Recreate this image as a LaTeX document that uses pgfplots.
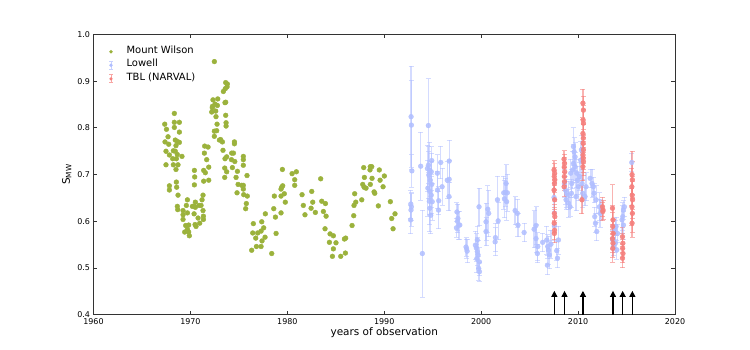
\documentclass[border=0pt]{standalone}
\usepackage{pgfplots}
\usepackage{pgfplotstable}
\pgfplotsset{compat=1.18}
\usepackage{fontspec}
\setmainfont{DejaVu Sans}
\usetikzlibrary{arrows.meta}
\definecolor{mw}{RGB}{155,178,60}
\definecolor{low}{RGB}{176,190,255}
\definecolor{tbl}{RGB}{245,128,125}

\pgfplotstableread{
x y
1967.35 0.808
1967.53 0.797
1967.69 0.781
1968.34 0.831
1968.34 0.812
1968.86 0.812
1968.34 0.801
1968.86 0.791
1968.44 0.774
1968.65 0.771
1968.86 0.769
1967.38 0.770
1967.76 0.765
1968.51 0.762
1967.48 0.750
1967.83 0.742
1968.24 0.751
1968.44 0.750
1968.65 0.743
1969.13 0.739
1968.17 0.734
1968.55 0.734
1968.24 0.721
1967.48 0.721
1968.72 0.721
1968.51 0.711
1968.55 0.684
1968.58 0.673
1967.83 0.676
1967.83 0.667
1968.72 0.656
1968.65 0.632
1968.69 0.625
1969.24 0.623
1969.24 0.614
1969.69 0.646
1969.24 0.604
1969.58 0.634
1969.69 0.618
1969.51 0.591
1969.82 0.592
1969.41 0.577
1969.82 0.577
1969.89 0.569
1969.69 0.583
1970.41 0.709
1970.44 0.695
1970.41 0.678
1970.20 0.632
1970.41 0.632
1970.51 0.630
1970.51 0.641
1970.38 0.616
1970.48 0.593
1970.58 0.589
1970.79 0.607
1970.89 0.634
1970.96 0.596
1971.10 0.634
1971.30 0.623
1971.34 0.611
1971.34 0.604
1971.20 0.646
1971.30 0.656
1971.37 0.686
1971.37 0.709
1971.54 0.704
1971.44 0.746
1971.68 0.732
1971.89 0.716
1971.89 0.688
1971.47 0.761
1971.82 0.759
1972.20 0.834
1972.27 0.846
1972.33 0.860
1972.78 0.848
1972.64 0.824
1972.75 0.808
1972.47 0.793
1972.71 0.794
1972.47 0.782
1972.99 0.774
1973.12 0.775
1973.30 0.770
1973.36 0.752
1973.57 0.734
1973.74 0.738
1973.54 0.714
1973.74 0.706
1973.54 0.694
1973.64 0.855
1973.64 0.827
1973.68 0.811
1973.68 0.804
1974.26 0.746
1974.44 0.746
1974.54 0.770
1974.54 0.766
1974.23 0.732
1974.58 0.728
1974.33 0.715
1974.85 0.707
1974.71 0.694
1974.92 0.679
1974.81 0.661
1975.46 0.739
1975.46 0.732
1975.46 0.720
1975.84 0.698
1975.46 0.677
1975.30 0.677
1975.46 0.669
1975.50 0.657
1975.87 0.654
1975.77 0.638
1975.70 0.627
1972.47 0.942
1973.64 0.897
1973.81 0.894
1973.78 0.888
1973.60 0.884
1973.40 0.878
1972.54 0.851
1972.82 0.862
1972.26 0.843
1972.61 0.836
1973.57 0.854
1976.49 0.595
1976.43 0.575
1976.32 0.538
1976.81 0.546
1976.74 0.564
1976.94 0.575
1977.36 0.599
1977.29 0.579
1977.29 0.546
1977.39 0.558
1977.56 0.586
1977.70 0.566
1977.73 0.616
1978.39 0.531
1978.66 0.654
1978.60 0.627
1978.77 0.609
1978.84 0.574
1979.35 0.618
1979.35 0.654
1979.35 0.669
1979.42 0.673
1979.52 0.676
1979.69 0.659
1979.79 0.641
1979.49 0.711
1980.49 0.702
1980.76 0.689
1980.76 0.677
1980.93 0.706
1981.52 0.657
1981.65 0.634
1981.82 0.614
1982.45 0.628
1982.52 0.664
1982.62 0.641
1982.89 0.619
1983.44 0.691
1983.55 0.643
1983.93 0.638
1983.72 0.621
1984.00 0.611
1983.89 0.584
1984.41 0.573
1984.75 0.569
1984.34 0.555
1985.02 0.554
1984.75 0.541
1984.65 0.525
1985.51 0.525
1985.99 0.532
1985.89 0.562
1986.02 0.564
1986.68 0.591
1986.85 0.612
1986.88 0.634
1987.06 0.641
1986.95 0.659
1987.68 0.646
1987.88 0.715
1987.95 0.694
1987.78 0.679
1987.92 0.673
1988.12 0.671
1988.56 0.717
1988.71 0.717
1988.53 0.710
1988.74 0.692
1988.56 0.679
1988.95 0.663
1989.02 0.660
1989.49 0.710
1989.57 0.688
1989.39 0.633
1990.01 0.697
1989.88 0.674
1990.63 0.642
1990.77 0.606
1991.11 0.616
1990.91 0.584
}\mwdata

\pgfplotstableread{
x y e
1992.77 0.824 0.108
1992.80 0.806 0.096
1992.85 0.708 0.035
1992.74 0.637 0.03
1992.80 0.631 0.03
1992.76 0.624 0.035
1992.72 0.603 0.03
1993.76 0.718 0.073
1993.93 0.531 0.093
1994.55 0.805 0.10
1994.45 0.713 0.05
1994.70 0.709 0.06
1994.85 0.706 0.04
1994.60 0.699 0.05
1994.75 0.688 0.04
1994.90 0.679 0.05
1994.50 0.671 0.06
1994.70 0.664 0.05
1994.85 0.656 0.04
1994.65 0.643 0.05
1994.95 0.642 0.04
1994.70 0.628 0.05
1994.80 0.613 0.04
1994.55 0.720 0.04
1994.90 0.730 0.03
1995.48 0.703 0.04
1995.50 0.667 0.04
1995.62 0.644 0.03
1995.60 0.624 0.04
1995.83 0.726 0.035
1995.97 0.674 0.04
1996.50 0.688 0.04
1996.70 0.690 0.04
1996.70 0.729 0.045
1996.68 0.653 0.03
1997.50 0.620 0.02
1997.60 0.606 0.03
1997.70 0.592 0.03
1997.45 0.586 0.02
1997.80 0.592 0.03
1997.55 0.600 0.02
1998.44 0.545 0.02
1998.55 0.536 0.025
1998.50 0.541 0.02
1999.50 0.543 0.03
1999.60 0.560 0.03
1999.78 0.631 0.04
1999.68 0.528 0.03
1999.82 0.513 0.03
1999.75 0.499 0.025
1999.82 0.492 0.02
1999.60 0.535 0.03
1999.40 0.549 0.03
1999.55 0.520 0.03
2000.50 0.599 0.04
2000.68 0.626 0.05
2000.78 0.617 0.05
2000.50 0.578 0.03
2001.47 0.565 0.03
2001.44 0.556 0.03
2001.68 0.646 0.05
2001.75 0.601 0.04
2002.33 0.661 0.035
2002.40 0.648 0.04
2002.63 0.642 0.04
2002.70 0.661 0.04
2002.50 0.662 0.03
2002.57 0.681 0.04
2003.50 0.623 0.03
2003.73 0.617 0.03
2003.80 0.592 0.025
2004.43 0.576 0.02
2005.46 0.583 0.04
2005.66 0.563 0.03
2005.84 0.546 0.03
2005.66 0.591 0.04
2005.80 0.531 0.02
2006.35 0.555 0.02
2006.77 0.560 0.03
2006.87 0.546 0.025
2006.94 0.538 0.03
2006.83 0.506 0.02
2007.04 0.528 0.03
2007.20 0.551 0.03
2007.52 0.651 0.03
2007.55 0.590 0.03
2007.80 0.537 0.02
2007.87 0.521 0.02
2007.97 0.560 0.03
2008.59 0.681 0.03
2008.69 0.667 0.03
2008.83 0.660 0.03
2008.76 0.646 0.02
2009.00 0.639 0.03
2009.17 0.631 0.02
2009.35 0.681 0.03
2009.45 0.710 0.04
2009.52 0.724 0.04
2009.52 0.760 0.04
2009.59 0.749 0.03
2009.69 0.717 0.03
2009.86 0.703 0.03
2009.93 0.688 0.03
2010.03 0.674 0.03
2010.14 0.696 0.03
2010.27 0.731 0.04
2010.34 0.753 0.03
2010.41 0.681 0.03
2010.48 0.660 0.03
2010.72 0.653 0.02
2010.82 0.674 0.03
2009.31 0.660 0.03
2009.00 0.656 0.03
2009.79 0.653 0.03
2009.24 0.703 0.03
2009.69 0.738 0.03
2011.24 0.692 0.02
2011.44 0.681 0.03
2011.58 0.674 0.02
2011.65 0.660 0.02
2011.86 0.646 0.03
2011.72 0.610 0.02
2011.79 0.596 0.02
2011.93 0.578 0.02
2012.20 0.631 0.03
2012.27 0.617 0.03
2012.37 0.624 0.02
2013.58 0.560 0.02
2013.65 0.546 0.02
2013.82 0.581 0.02
2013.92 0.589 0.02
2013.99 0.539 0.02
2013.85 0.553 0.02
2014.06 0.574 0.02
2014.68 0.624 0.02
2014.78 0.631 0.02
2014.61 0.610 0.03
2014.54 0.603 0.03
2014.68 0.592 0.03
2015.54 0.726 0.02
}\lowdata

\pgfplotstableread{
x y e
2007.52 0.710 0.02
2007.58 0.703 0.02
2007.54 0.696 0.02
2007.60 0.689 0.02
2007.56 0.681 0.02
2007.52 0.667 0.02
2007.58 0.646 0.02
2007.55 0.617 0.02
2007.60 0.610 0.02
2007.53 0.596 0.02
2007.57 0.581 0.02
2007.55 0.574 0.02
2008.55 0.733 0.018
2008.60 0.724 0.02
2008.57 0.716 0.02
2008.62 0.706 0.02
2008.58 0.696 0.02
2008.60 0.685 0.02
2008.56 0.674 0.02
2010.50 0.853 0.03
2010.55 0.838 0.03
2010.52 0.817 0.03
2010.55 0.810 0.03
2010.50 0.788 0.03
2010.54 0.778 0.03
2010.52 0.767 0.03
2010.55 0.753 0.03
2010.51 0.742 0.03
2010.53 0.735 0.03
2010.55 0.728 0.03
2010.50 0.717 0.03
2010.40 0.646 0.03
2012.52 0.631 0.02
2012.58 0.624 0.02
2012.55 0.621 0.02
2013.55 0.628 0.05
2013.60 0.603 0.03
2013.57 0.589 0.03
2013.62 0.574 0.03
2013.55 0.563 0.03
2013.60 0.553 0.03
2013.58 0.542 0.03
2014.58 0.567 0.02
2014.62 0.553 0.02
2014.60 0.542 0.02
2014.63 0.531 0.02
2014.58 0.521 0.02
2015.57 0.700 0.05
2015.60 0.689 0.04
2015.55 0.674 0.04
2015.58 0.656 0.04
2015.62 0.646 0.04
2015.56 0.631 0.04
2015.60 0.617 0.04
2015.57 0.596 0.03
}\tbldata

\begin{document}
\begin{tikzpicture}
\useasboundingbox (-93.5bp,-35.3bp) rectangle (656.5bp,314.7bp);
\begin{axis}[
  at={(0,0)}, anchor=south west, scale only axis,
  width=581.5bp, height=280.2bp,
  xmin=1960, xmax=2020, ymin=0.4, ymax=1.0,
  xtick={1960,1970,1980,1990,2000,2010,2020},
  ytick={0.4,0.5,0.6,0.7,0.8,0.9,1.0},
  xticklabel style={/pgf/number format/1000 sep={}},
  yticklabel style={/pgf/number format/.cd, fixed, fixed zerofill, precision=1},
  /pgf/number format/assume math mode=true,
  tick label style={font=\fontsize{8}{9}\selectfont},
  tick align=inside, tick pos=both,
  major tick length=4bp,
  every tick/.style={black!80, line width=0.8bp},
  axis line style={black!80, line width=0.9bp},
  xlabel={years of observation},
  ylabel={S\textsubscript{MW}},
  label style={font=\fontsize{10.5}{12}\selectfont},
  xlabel style={at={(axis description cs:0.5,-0.065)}, anchor=center},
  ylabel style={at={(axis description cs:-0.046,0.5)}, anchor=center},
  legend cell align=left,
  legend style={at={(axis description cs:0.01,0.975)}, anchor=north west,
    draw=none, fill=none, font=\fontsize{10}{12}\selectfont,
    row sep=0.5bp},
]
\addplot[only marks, mark=*, mark size=2.4bp, draw=none, fill=mw, mark options={draw=mw, fill=mw},
  legend image code/.code={\path[draw=none,fill=none] (0,0) -- (0.78cm,0);
    \path[draw=none,fill=mw] (0.3cm,-1.5bp) circle (1.8bp);}]
  table[x=x,y=y] {\mwdata};
\addlegendentry{Mount Wilson}

\addplot[only marks, mark=*, mark size=2.4bp, color=low, mark options={draw=low, fill=low, opacity=0.85},
  legend image code/.code={\path[draw=none,fill=none] (0,0) -- (0.78cm,0);
    \path[draw=low, draw opacity=0.7, line width=0.8bp] (0.3cm,-5.5bp) -- (0.3cm,2.5bp)
      (0.3cm-1.8bp,2.5bp) -- (0.3cm+1.8bp,2.5bp) (0.3cm-1.8bp,-5.5bp) -- (0.3cm+1.8bp,-5.5bp);
    \path[draw=none,fill=low] (0.3cm,-1.5bp) circle (1.8bp);},
  error bars/.cd, y dir=both, y explicit,
  error bar style={color=low, opacity=0.55, line width=1.2bp},
  error mark options={rotate=90, mark size=2.5bp, color=low, line width=0.9bp, opacity=0.55}]
  table[x=x,y=y,y error=e] {\lowdata};
\addlegendentry{Lowell}

\addplot[only marks, mark=*, mark size=2.4bp, color=tbl, mark options={draw=tbl, fill=tbl, opacity=0.9},
  legend image code/.code={\path[draw=none,fill=none] (0,0) -- (0.78cm,0);
    \path[draw=tbl, draw opacity=0.7, line width=0.8bp] (0.3cm,-5.5bp) -- (0.3cm,2.5bp)
      (0.3cm-1.8bp,2.5bp) -- (0.3cm+1.8bp,2.5bp) (0.3cm-1.8bp,-5.5bp) -- (0.3cm+1.8bp,-5.5bp);
    \path[draw=none,fill=tbl] (0.3cm,-1.5bp) circle (1.8bp);},
  error bars/.cd, y dir=both, y explicit,
  error bar style={color=tbl, opacity=0.6, line width=1.2bp},
  error mark options={rotate=90, mark size=2.5bp, color=tbl, line width=0.9bp, opacity=0.6}]
  table[x=x,y=y,y error=e] {\tbldata};
\addlegendentry{TBL (NARVAL)}

\addplot[forget plot, black, line width=1.2bp, -{Triangle[length=6bp,width=6bp]},
  quiver={u=0, v=0.051}, mark=none]
  coordinates {(2007.55,0.4) (2008.6,0.4) (2010.5,0.4) (2013.6,0.4) (2014.6,0.4) (2015.6,0.4)};
\end{axis}
\end{tikzpicture}
\end{document}
